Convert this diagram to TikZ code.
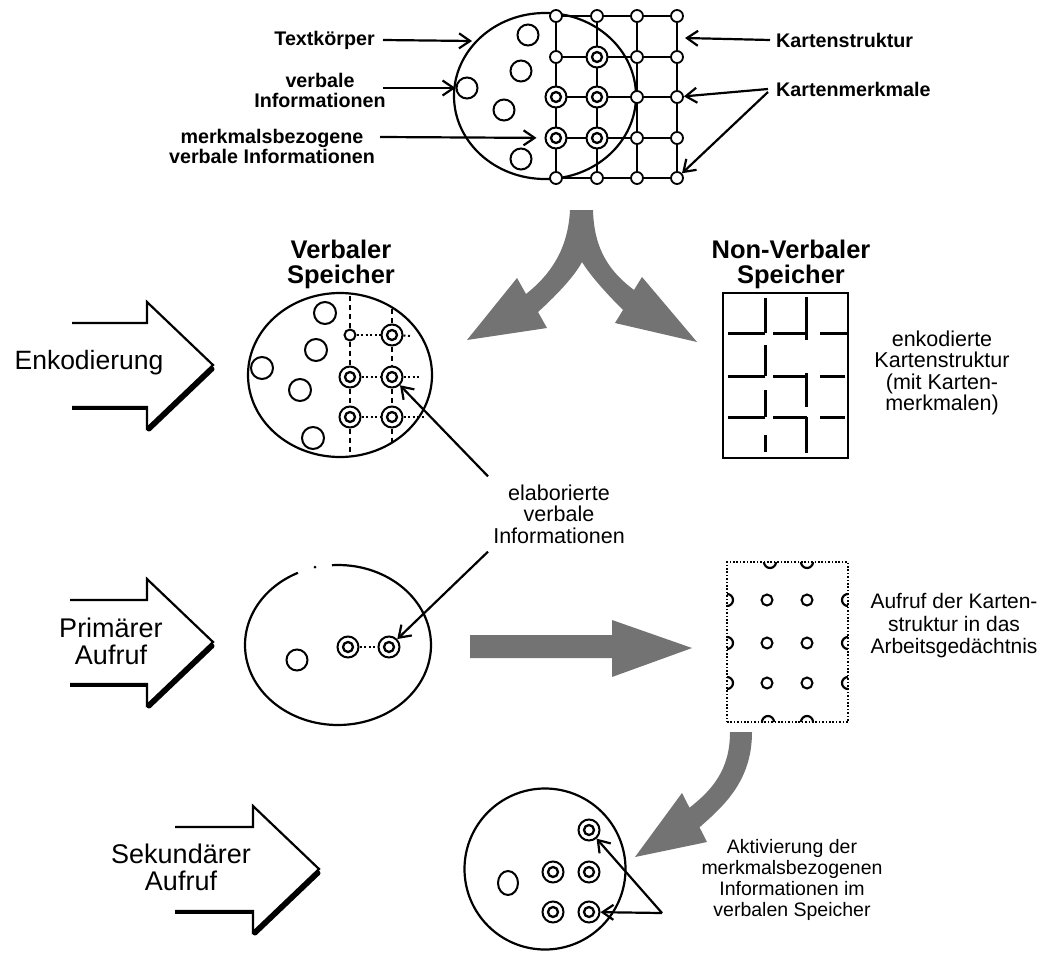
\documentclass[tikz,border=0pt]{standalone}
\usepackage{fontspec}
\setmainfont{Liberation Sans}
\usetikzlibrary{arrows.meta,shapes.geometric,calc}

\newcommand\fsz[2]{\fontsize{#1}{#2}\selectfont}
% open block arrow with a heavy lower edge: tail x, head base x, tip x, axis y
\newcommand\hollowarrow[4]{%
  \draw[line width=2.2pt,line join=miter] ({#1},{#4-42}) -- ({#2},{#4-42}) -- ({#2},{#4-63})
     -- ({#3},{#4}) -- ({#2},{#4+63}) -- ({#2},{#4+42}) -- ({#1},{#4+42});
  \draw[line width=5pt,line cap=round] ({#3-1},{#4+4}) -- ({#2+2},{#4+64});
  \draw[line width=4.5pt] ({#1},{#4+43}) -- ({#2},{#4+43});
}

\begin{document}
\begin{tikzpicture}[x=1pt,y=-1pt,
  arr/.style={line width=2.2pt,-{Straight Barb[length=11pt,width=15pt,line width=2.2pt]}},
  plainring/.style={circle,draw,line width=2pt,minimum size=21pt,inner sep=0pt,fill=white},
  dblring/.style={plainring,path picture={\draw[line width=2.3pt] (path picture bounding box.center) circle (5pt);}},
  smallring/.style={circle,draw,line width=2pt,minimum size=11pt,inner sep=0pt,fill=white},
  gridknot/.style={circle,draw,line width=1.8pt,minimum size=12pt,inner sep=0pt,fill=white},
  toplbl/.style={font=\fsz{19.7}{20}\bfseries,align=center,inner sep=0pt},
  lbl/.style={font=\fsz{21.5}{21.5},align=center,inner sep=0pt},
  headlbl/.style={font=\fsz{25.5}{25}\bfseries,align=center,inner sep=0pt},
  flow/.style={fill=black!55,draw=none},
  vdash/.style={line width=1.6pt,dash pattern=on 5pt off 4pt},
  hdot/.style={line width=2pt,dash pattern=on 2pt off 2.5pt},
  brick/.style={line width=3pt},
  ]
\fill[white] (0,0) rectangle (1049,953);
\useasboundingbox (0,0) rectangle (1049,953);

% ---------------- text body with map structure ----------------
\node[draw,ellipse,line width=2.2pt,minimum width=182pt,minimum height=166pt,inner sep=0pt] (body) at (545,96) {};
\node[plainring] (p1) at (528,35) {};
\node[plainring] (p2) at (521,71) {};
\node[plainring] (p3) at (504,110) {};
\node[plainring] (p4) at (521,159) {};
\node[plainring] (p5) at (467,88) {};

\foreach \c/\x in {1/556,2/597,3/637,4/677}
  \foreach \r/\y in {1/16,2/57,3/97,4/138,5/178}
    \node[gridknot] (g\c\r) at (\x,\y) {};
\foreach \r in {1,...,5}
  \draw[line width=2.2pt] (g1\r) -- (g2\r) (g2\r) -- (g3\r) (g3\r) -- (g4\r);
\foreach \c in {1,...,4}
  \draw[line width=2.2pt] (g\c1) -- (g\c2) (g\c2) -- (g\c3) (g\c3) -- (g\c4) (g\c4) -- (g\c5);
\node[dblring] (gd22) at (597,57) {};
\node[dblring] (gd13) at (556,97) {};
\node[dblring] (gd23) at (597,97) {};
\node[dblring] (gd14) at (556,138) {};
\node[dblring] (gd24) at (597,138) {};

\node[toplbl,anchor=east] (lTK) at (375,40) {Textkörper};
\coordinate (tTK) at (472,41);
\draw[arr] ([xshift=8pt]lTK.east) -- (tTK);

\node[toplbl] (lVI) at (320,90) {verbale\\Informationen};
\draw[arr] ([xshift=-3pt,yshift=2pt]lVI.east) -- (p5);

\node[toplbl] (lMV) at (272,146) {merkmalsbezogene\\verbale Informationen};
\draw[arr,shorten >=8pt] ([xshift=5pt,yshift=9pt]lMV.east) -- (gd14);

\node[toplbl,anchor=west] (lKS) at (776,40) {Kartenstruktur};
\coordinate (tKS) at (685,38);
\draw[arr] ([xshift=-6pt]lKS.west) -- (tKS);

\node[toplbl,anchor=west] (lKM) at (776,89) {Kartenmerkmale};
\draw[arr] ([xshift=-8pt]lKM.west) -- (g43);
\draw[arr] ([xshift=-8pt,yshift=-3pt]lKM.west) -- (g45);

% ---------------- shaded flow arrows ----------------
\fill[flow] (570,210) -- (593,210) .. controls (594,250) and (610,272) .. (634,290)
  -- (642,277) -- (697,342) -- (615,323) -- (623,310)
  .. controls (605,292) and (590,275) .. (582,262)
  .. controls (575,275) and (560,292) .. (538,312)
  -- (547,328) -- (467,340) -- (517,278) -- (526,294)
  .. controls (550,275) and (568,250) .. (570,210) -- cycle;

\fill[flow] (470,635) -- (612,635) -- (612,620) -- (692,648) -- (612,677) -- (612,658) -- (470,658) -- cycle;

\fill[flow] (730,732) -- (752,732) .. controls (752,780) and (725,805) .. (699.5,827.3)
  -- (707,842) -- (635,857) -- (682,793) -- (689.5,807.7)
  .. controls (712,790) and (730,770) .. (730,732) -- cycle;

% ---------------- process arrows on the left ----------------
\hollowarrow{72}{147}{213}{365}
\node[font=\fsz{26.5}{27},inner sep=0pt] (tEnk) at (89,363) {Enkodierung};
\hollowarrow{70}{147}{213}{642}
\node[font=\fsz{27}{27},align=center,inner sep=0pt] (tPri) at (111,641) {Primärer\\Aufruf};
\hollowarrow{175}{253}{319}{869}
\node[font=\fsz{27}{27},align=center,inner sep=0pt] (tSek) at (181,867) {Sekundärer\\Aufruf};

% ---------------- verbal store ----------------
\node[headlbl] (hV) at (341,264) {Verbaler\\Speicher};
\node[draw,ellipse,line width=2.2pt,minimum width=184pt,minimum height=164pt,inner sep=0pt] (vmem) at (340,375) {};
\node[plainring,minimum size=22pt] (v1) at (325,313) {};
\node[plainring,minimum size=22pt] (v2) at (316,350) {};
\node[plainring,minimum size=22pt] (v3) at (262,368) {};
\node[plainring,minimum size=22pt] (v4) at (300,390) {};
\node[plainring,minimum size=22pt] (v5) at (313,438) {};
\node[smallring] (vs11) at (350,335) {};
\node[dblring] (vs12) at (392,335) {};
\node[dblring] (vs21) at (350,377) {};
\node[dblring] (vs22) at (392,377) {};
\node[dblring] (vs31) at (350,417) {};
\node[dblring] (vs32) at (392,417) {};
\coordinate (vt1) at (350,296);
\coordinate (vb1) at (350,455);
\coordinate (vt2) at (392,309);
\coordinate (vb2) at (392,446);
\coordinate (vr1) at (412,336);
\coordinate (vr2) at (420,377);
\coordinate (vr3) at (425,417);
\draw[vdash] (vt1) -- (vs11);
\draw[vdash] (vs11) -- (vs21);
\draw[vdash] (vs21) -- (vs31);
\draw[vdash] (vs31) -- (vb1);
\draw[vdash] (vt2) -- (vs12);
\draw[vdash] (vs12) -- (vs22);
\draw[vdash] (vs22) -- (vs32);
\draw[vdash] (vs32) -- (vb2);
\draw[hdot] (vs11) -- (vs12);
\draw[hdot] (vs21) -- (vs22);
\draw[hdot] (vs31) -- (vs32);
\draw[hdot] (vs12) -- (vr1);
\draw[hdot] (vs22) -- (vr2);
\draw[hdot] (vs32) -- (vr3);

% ---------------- non-verbal store ----------------
\node[headlbl] (hNV) at (791,264) {Non-Verbaler\\Speicher};
\node[draw,line width=2.5pt,minimum width=125pt,minimum height=165pt,inner sep=0pt] (nvm) at (785.5,375.5) {};
\draw[brick] (765,298) -- (765,333) (765,345) -- (765,376) (765,390) -- (765,417) (765,435) -- (765,452);
\draw[brick] (806,297) -- (806,340) (806,373) -- (806,407) (806,417) -- (806,453);
\draw[brick] (728,333) -- (765,333) (773,333) -- (807,333) (820,333) -- (847,333);
\draw[brick] (728,376) -- (765,376) (773,376) -- (807,376) (820,376) -- (845,376);
\draw[brick] (728,417) -- (765,417) (773,417) -- (807,417) (820,417) -- (845,417);
\node[lbl] (lEK) at (942,373) {enkodierte\\Kartenstruktur\\(mit Karten-\\merkmalen)};

% ---------------- elaborated information ----------------
\node[lbl] (lEL) at (559,514) {elaborierte\\verbale\\Informationen};

% ---------------- primary recall ----------------
\path (338,645) node[ellipse,minimum width=186pt,minimum height=160pt,inner sep=0pt] (pmem) {};
\draw[line width=2.2pt] (pmem.center) ++(266.3:93 and 80)
  arc[start angle=266.3,end angle=604.5,x radius=93,y radius=80];
\fill (315,567) circle (1.5pt);
\node[plainring] (pp1) at (297,660) {};
\node[dblring] (pd1) at (348,647) {};
\node[dblring] (pd2) at (389,647) {};
\draw[hdot] (pd1) -- (pd2);

\draw[arr] ([xshift=-5pt,yshift=8pt]lEL.north west) -- (vs22);
\draw[arr] ([xshift=-5pt,yshift=-8pt]lEL.south west) -- (pd2);

% ---------------- map structure in working memory ----------------
\node[draw,line width=2pt,dash pattern=on 1.6pt off 1.8pt,minimum width=121pt,minimum height=160pt,inner sep=0pt] (wm) at (787.5,642) {};
\foreach \x in {770,807}
  \draw[line width=2.2pt] ({\x-6},562) arc[start angle=180,end angle=0,radius=6];
\foreach \x in {768,807}
  \draw[line width=2.2pt] ({\x-6},722) arc[start angle=180,end angle=360,radius=6];
\foreach \y in {600,643,683} {
  \draw[line width=2.2pt] (727,{\y-6}) arc[start angle=270,end angle=450,radius=6];
  \draw[line width=2.2pt] (848,{\y-6}) arc[start angle=270,end angle=90,radius=6];
}
\foreach \c/\x in {1/767,2/807}
  \foreach \r/\y in {1/600,2/643,3/683}
    \node[smallring] (wk\c\r) at (\x,\y) {};
\node[lbl,font=\fsz{21}{22.5}] (lAK) at (954,626) {Aufruf der Karten-\\struktur in das\\Arbeitsgedächtnis};

% ---------------- secondary recall ----------------
\node[draw,circle,line width=2.2pt,minimum size=161pt,inner sep=0pt] (smem) at (545,869) {};
\node[draw,ellipse,line width=2pt,minimum width=20pt,minimum height=24pt,inner sep=0pt] (sp1) at (508,883) {};
\node[dblring] (sd1) at (589,830) {};
\node[dblring] (sd2) at (553,872) {};
\node[dblring] (sd3) at (589,872) {};
\node[dblring] (sd4) at (553,912) {};
\node[dblring] (sd5) at (589,912) {};
\coordinate (tri) at (662,913);
\draw[arr] (tri) -- (sd1);
\draw[arr] (tri) -- (sd5);
\node[lbl,font=\fsz{19.5}{21}] (lAV) at (792,880) {Aktivierung der\\merkmalsbezogenen\\Informationen im\\verbalen Speicher};
\end{tikzpicture}
\end{document}
